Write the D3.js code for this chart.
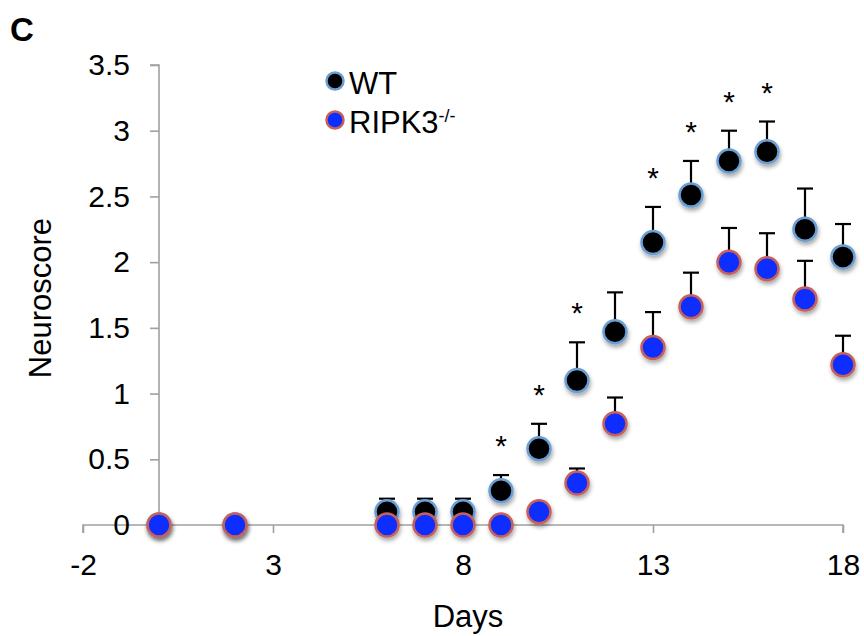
<!DOCTYPE html>
<html lang="en">
<head>
    <meta charset="UTF-8">
    <title>Neuroscore</title>
    <script src="https://d3js.org/d3.v7.min.js"></script>
    <style>
        body { margin: 0; background: #fff; }
        svg text { font-family: Arial, "Liberation Sans", sans-serif; fill: #000; }
    </style>
</head>
<body>
    <script>
    // data
    var days   = [0, 2, 6, 7, 8, 9, 10, 11, 12, 13, 14, 15, 16, 17, 18];
    var wtMean = [0, 0, 0.1, 0.1, 0.1, 0.26, 0.58, 1.1, 1.47, 2.15, 2.51, 2.77, 2.84, 2.25, 2.04];
    var wtErr  = [0, 0, 0.1, 0.1, 0.1, 0.12, 0.19, 0.29, 0.30, 0.27, 0.26, 0.23, 0.23, 0.31, 0.25];
    var koMean = [0, 0, 0, 0, 0, 0, 0.1, 0.32, 0.77, 1.35, 1.66, 2.0, 1.95, 1.72, 1.22];
    var koErr  = [0, 0, 0, 0, 0, 0, 0, 0.11, 0.20, 0.27, 0.26, 0.26, 0.27, 0.29, 0.22];
    var starDays = [9, 10, 11, 13, 14, 15, 16];
    var xTicks = [-2, 3, 8, 13, 18];
    var yTicks = [0, 0.5, 1, 1.5, 2, 2.5, 3, 3.5];

    var w = 864, h = 636;
    var svg = d3.select("body").append("svg")
        .attr("width", w)
        .attr("height", h);

    var defs = svg.append("defs");
    var f = defs.append("filter").attr("id", "shadow")
        .attr("x", "-50%").attr("y", "-50%").attr("width", "200%").attr("height", "200%");
    f.append("feDropShadow")
        .attr("dx", 1).attr("dy", 3).attr("stdDeviation", 2)
        .attr("flood-color", "#000").attr("flood-opacity", 0.35);

    var x = d3.scaleLinear().domain([-2, 18]).range([83, 843]);
    var y = d3.scaleLinear().domain([0, 3.5]).range([525, 65]);

    // axes
    var xAxis = svg.append("g")
        .attr("transform", "translate(0," + y(0) + ")")
        .call(d3.axisBottom(x).tickValues(xTicks).tickSize(8).tickPadding(21)
            .tickFormat(function(d) { return String(d); }));
    var yAxis = svg.append("g")
        .attr("transform", "translate(" + x(0) + ",0)")
        .call(d3.axisLeft(y).tickValues(yTicks).tickSize(9).tickPadding(20)
            .tickFormat(function(d) { return String(d); }));

    [xAxis, yAxis].forEach(function(g) {
        g.select(".domain").attr("stroke", "#a0a0a0").attr("stroke-width", 1.6);
        g.selectAll(".tick line").attr("stroke", "#a0a0a0").attr("stroke-width", 1.6);
        g.selectAll(".tick text")
            .attr("font-size", 30)
            .attr("font-family", "Arial, 'Liberation Sans', sans-serif")
            .attr("fill", "#000");
    });
    xAxis.select(".domain").attr("d", "M" + x(-2) + ",8V0H" + x(18) + "V8");
    yAxis.select(".domain").attr("d", "M-9," + y(3.5) + "H0V" + y(0));

    // titles
    svg.append("text")
        .attr("x", 468).attr("y", 627)
        .attr("text-anchor", "middle")
        .attr("font-size", 31)
        .text("Days");
    svg.append("text")
        .attr("transform", "translate(51,298) rotate(-90)")
        .attr("text-anchor", "middle")
        .attr("font-size", 31)
        .text("Neuroscore");
    svg.append("text")
        .attr("x", 10).attr("y", 41)
        .attr("font-size", 33)
        .attr("font-weight", "bold")
        .text("C");

    var wt = days.map(function(d, i) { return { day: d, v: wtMean[i], e: wtErr[i] }; });
    var ko = days.map(function(d, i) { return { day: d, v: koMean[i], e: koErr[i] }; });

    function errorBars(data) {
        var g = svg.append("g").attr("stroke", "#000").attr("stroke-width", 2.2);
        var withErr = data.filter(function(d) { return d.e > 0; });
        g.selectAll("line.v").data(withErr).enter().append("line")
            .attr("x1", function(d) { return x(d.day); })
            .attr("x2", function(d) { return x(d.day); })
            .attr("y1", function(d) { return y(d.v); })
            .attr("y2", function(d) { return y(d.v + d.e); });
        g.selectAll("line.c").data(withErr).enter().append("line")
            .attr("x1", function(d) { return x(d.day) - 8; })
            .attr("x2", function(d) { return x(d.day) + 8; })
            .attr("y1", function(d) { return y(d.v + d.e); })
            .attr("y2", function(d) { return y(d.v + d.e); });
    }
    errorBars(wt);
    errorBars(ko);

    function dots(data, fill, stroke) {
        svg.append("g").selectAll("circle").data(data).enter().append("circle")
            .attr("cx", function(d) { return x(d.day); })
            .attr("cy", function(d) { return y(d.v); })
            .attr("r", 11.5)
            .attr("fill", fill)
            .attr("stroke", stroke)
            .attr("stroke-width", 2.5)
            .attr("filter", "url(#shadow)");
    }
    dots(wt, "#000", "#6b9fd4");
    dots(ko, "#0a2eff", "#c8605a");

    // significance stars above WT error bars
    svg.append("g").selectAll("text").data(wt.filter(function(d) { return starDays.indexOf(d.day) >= 0; }))
        .enter().append("text")
        .attr("x", function(d) { return x(d.day); })
        .attr("y", function(d) { return y(d.v + d.e) - 19; })
        .attr("text-anchor", "middle")
        .attr("font-size", 30)
        .text("*");

    // legend
    var leg = svg.append("g");
    leg.append("circle").attr("cx", 335).attr("cy", 81).attr("r", 8.5)
        .attr("fill", "#000").attr("stroke", "#6b9fd4").attr("stroke-width", 2.5);
    leg.append("text").attr("x", 349).attr("y", 94).attr("font-size", 31).text("WT");
    leg.append("circle").attr("cx", 335).attr("cy", 120).attr("r", 8.5)
        .attr("fill", "#0a2eff").attr("stroke", "#c8605a").attr("stroke-width", 2.5);
    var t = leg.append("text").attr("x", 349).attr("y", 133).attr("font-size", 31);
    t.append("tspan").text("RIPK3");
    t.append("tspan").attr("font-size", 18).attr("dy", -11).text("-/-");
    </script>
</body>
</html>
